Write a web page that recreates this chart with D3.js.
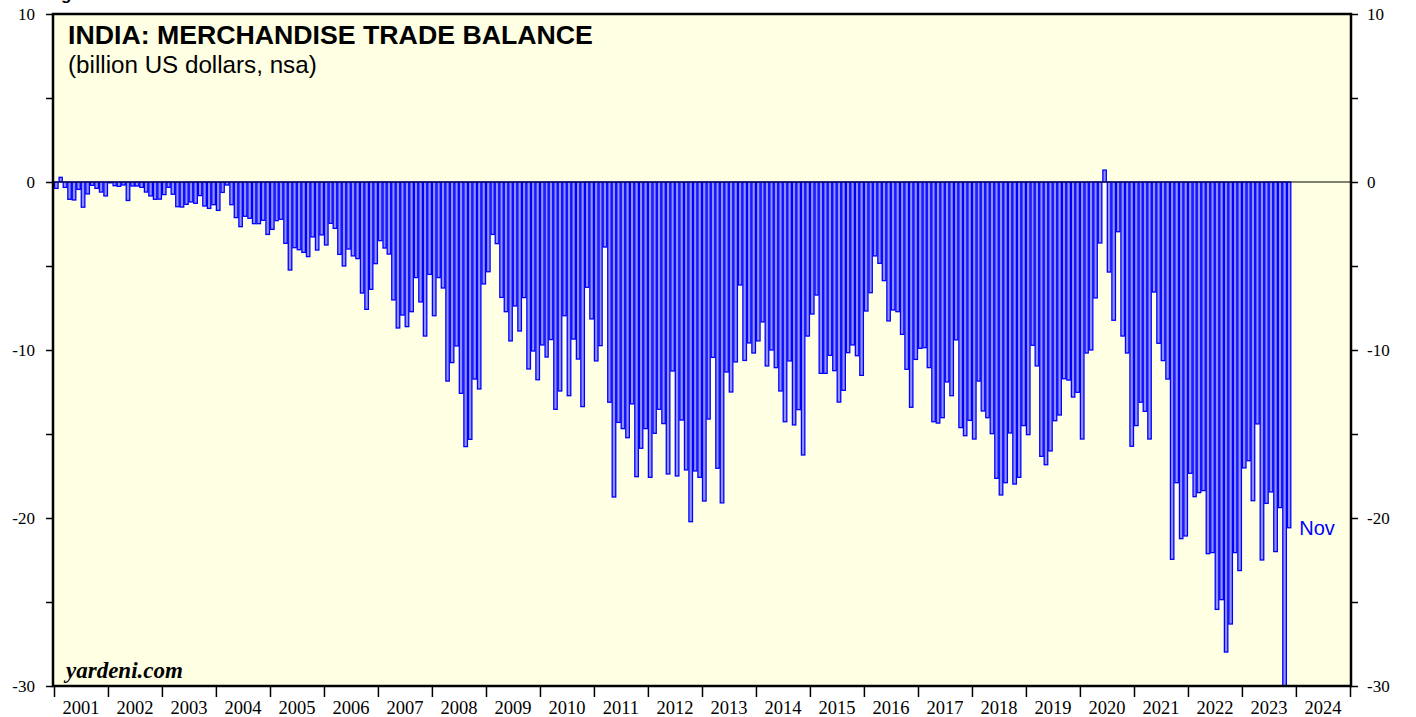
<!DOCTYPE html>
<html>
<head>
<meta charset="utf-8">
<script src="https://cdn.jsdelivr.net/npm/d3@7"></script>
<style>
  body { margin: 0; background: #fff; }
  svg { display: block; }
</style>
</head>
<body>
<svg id="chart" width="1416" height="717"></svg>
<script>
// monthly trade balance, billion US dollars (nsa), Jan..Dec
const y2001 = [-0.38, 0.28, -0.32, -1.03, -1.07, -0.44, -1.50, -0.71, -0.20, -0.38, -0.60, -0.83]
const y2002 = [-0.05, -0.22, -0.26, -0.18, -1.10, -0.24, -0.24, -0.32, -0.60, -0.83, -1.03, -1.02]
const y2003 = [-0.75, -0.32, -0.73, -1.47, -1.49, -1.33, -1.19, -1.27, -0.81, -1.43, -1.57, -1.35]
const y2004 = [-1.69, -0.62, -0.18, -1.35, -2.12, -2.66, -2.04, -2.16, -2.48, -2.48, -2.28, -3.12]
const y2005 = [-2.82, -2.30, -2.22, -3.65, -5.24, -3.91, -4.03, -4.19, -4.44, -3.27, -4.05, -3.15]
const y2006 = [-3.75, -2.46, -2.76, -4.31, -5.00, -3.99, -4.40, -4.56, -6.61, -7.58, -6.39, -4.86]
const y2007 = [-3.49, -3.93, -4.29, -7.02, -8.69, -7.92, -8.61, -7.72, -5.69, -7.14, -9.17, -5.50]
const y2008 = [-7.96, -5.69, -6.31, -11.85, -10.75, -9.76, -12.58, -15.75, -15.32, -11.73, -12.32, -6.07]
const y2009 = [-5.34, -3.12, -3.67, -6.87, -7.72, -9.46, -7.38, -8.87, -6.88, -11.13, -10.06, -11.77]
const y2010 = [-9.70, -10.42, -9.38, -13.53, -12.44, -7.96, -12.72, -9.35, -10.54, -13.37, -6.27, -8.15]
const y2011 = [-10.65, -9.74, -3.87, -13.11, -18.75, -14.31, -14.68, -15.22, -13.21, -17.54, -15.85, -14.68]
const y2012 = [-17.58, -14.96, -13.53, -14.38, -17.38, -11.25, -17.50, -14.17, -17.14, -20.22, -17.20, -17.58]
const y2013 = [-18.99, -14.11, -10.44, -17.04, -19.10, -11.31, -12.50, -10.71, -6.13, -10.62, -9.58, -10.18]
const y2014 = [-9.46, -8.33, -10.95, -10.00, -11.05, -12.44, -14.27, -10.65, -14.46, -13.55, -16.25, -9.17]
const y2015 = [-7.86, -6.73, -11.39, -11.39, -10.32, -11.23, -13.10, -12.40, -10.16, -9.70, -10.34, -11.51]
const y2016 = [-7.68, -6.59, -4.40, -4.84, -5.87, -8.27, -7.62, -7.72, -9.07, -11.15, -13.41, -10.56]
const y2017 = [-9.90, -9.86, -11.05, -14.27, -14.35, -14.03, -11.90, -12.72, -9.40, -14.62, -15.10, -14.19]
const y2018 = [-15.30, -11.85, -13.63, -14.03, -14.98, -17.64, -18.63, -17.90, -14.94, -17.98, -17.58, -14.50]
const y2019 = [-15.04, -9.72, -10.95, -16.33, -16.83, -16.01, -14.21, -13.87, -11.71, -11.79, -12.80, -12.52]
const y2020 = [-15.30, -10.18, -10.00, -6.90, -3.63, 0.71, -5.36, -8.23, -2.96, -9.17, -10.18, -15.73]
const y2021 = [-14.50, -13.11, -13.65, -15.30, -6.55, -9.60, -10.63, -11.73, -22.46, -17.90, -21.23, -21.07]
const y2022 = [-17.34, -18.73, -18.49, -18.37, -22.12, -22.06, -25.44, -24.86, -27.98, -26.31, -22.06, -23.13]
const y2023 = [-17.02, -16.59, -18.97, -14.40, -22.50, -19.13, -18.45, -22.00, -19.38, -30.00, -20.58]

const firstYear = 2001
const yearRows = [y2001, y2002, y2003, y2004, y2005, y2006, y2007, y2008, y2009, y2010, y2011, y2012,
  y2013, y2014, y2015, y2016, y2017, y2018, y2019, y2020, y2021, y2022, y2023]
const axisYears = d3.range(2001, 2025)
const yTicks = [10, 0, -10, -20, -30]
const lastLabel = 'Nov'

const data = []
yearRows.forEach(function(row, i) {
  row.forEach(function(v, m) {
    data.push({ date: new Date(firstYear + i, m, 1), value: v })
  })
})

const svg = d3.select('#chart')
const margin = { top: 14, right: 66, bottom: 31, left: 54 }
const width = 1416
const height = 717

const x = d3
  .scaleTime()
  .domain([new Date(2001, 0, 1), new Date(2025, 0, 1)])
  .range([margin.left, width - margin.right])

const y = d3
  .scaleLinear()
  .domain([-30, 10])
  .range([height - margin.bottom, margin.top])

// plot background
svg
  .append('rect')
  .attr('x', x.range()[0])
  .attr('y', y(10))
  .attr('width', x.range()[1] - x.range()[0])
  .attr('height', y(-30) - y(10))
  .attr('fill', '#ffffe3')

// bars
svg
  .append('g')
  .selectAll('rect')
  .data(data)
  .enter()
  .append('rect')
  .attr('x', function(d) {
    return x(d.date) + 0.5
  })
  .attr('width', function(d) {
    return x(d3.timeMonth.offset(d.date, 1)) - x(d.date) - 1
  })
  .attr('y', function(d) {
    return y(Math.max(0, d.value))
  })
  .attr('height', function(d) {
    return Math.abs(y(d.value) - y(0))
  })
  .attr('fill', '#9090ff')
  .attr('stroke', '#0000ff')
  .attr('stroke-width', 1.3)

// zero line
svg
  .append('line')
  .attr('x1', x.range()[0])
  .attr('x2', x.range()[1])
  .attr('y1', y(0))
  .attr('y2', y(0))
  .attr('stroke', '#000')
  .attr('stroke-width', 1)

// frame
svg
  .append('rect')
  .attr('x', x.range()[0] - 1)
  .attr('y', y(10))
  .attr('width', x.range()[1] - x.range()[0] + 2)
  .attr('height', y(-30) - y(10))
  .attr('fill', 'none')
  .attr('stroke', '#000')
  .attr('stroke-width', 2.5)

// y axes
const left = svg
  .append('g')
  .attr('transform', 'translate(' + (x.range()[0] - 1) + ',0)')
  .call(d3.axisLeft(y).tickValues(d3.range(-30, 11, 5)).tickSize(7).tickFormat(function(d) {
    return yTicks.indexOf(d) >= 0 ? d : ''
  }))
const right = svg
  .append('g')
  .attr('transform', 'translate(' + (x.range()[1] + 1) + ',0)')
  .call(d3.axisRight(y).tickValues(d3.range(-30, 11, 5)).tickSize(7).tickFormat(function(d) {
    return yTicks.indexOf(d) >= 0 ? d : ''
  }))
;[left, right].forEach(function(g) {
  g.select('.domain').remove()
  g.selectAll('line').attr('stroke', '#000').attr('stroke-width', 1.5)
  g.selectAll('text')
    .attr('font-family', 'Liberation Serif, serif')
    .attr('font-size', 17)
    .attr('fill', '#000')
})
left.selectAll('text').attr('x', -18)
right.selectAll('text').attr('x', 16)

// x axis: year boundaries as ticks, labels centred in each year
const bottom = svg
  .append('g')
  .attr('transform', 'translate(0,' + y(-30) + ')')
  .call(d3.axisBottom(x).tickValues(axisYears.map(function(yr) {
    return new Date(yr, 0, 1)
  }).concat([new Date(2025, 0, 1)])).tickSize(11).tickFormat(''))
bottom.select('.domain').remove()
bottom.selectAll('line').attr('stroke', '#000').attr('stroke-width', 1.5)

svg
  .append('g')
  .selectAll('text')
  .data(axisYears)
  .enter()
  .append('text')
  .attr('x', function(yr) {
    return (x(new Date(yr, 0, 1)) + x(new Date(yr + 1, 0, 1))) / 2
  })
  .attr('y', 714)
  .attr('text-anchor', 'middle')
  .attr('font-family', 'Liberation Serif, serif')
  .attr('font-size', 18.5)
  .text(function(yr) {
    return yr
  })

// titles
svg
  .append('text')
  .attr('x', 46)
  .attr('y', 0)
  .attr('font-family', 'Liberation Sans, Arial, sans-serif')
  .attr('font-weight', 'bold')
  .attr('font-size', 17)
  .text('Figure 1.')

svg
  .append('text')
  .attr('x', 68)
  .attr('y', 44)
  .attr('font-family', 'Liberation Sans, Arial, sans-serif')
  .attr('font-weight', 'bold')
  .attr('font-size', 26.7)
  .text('INDIA: MERCHANDISE TRADE BALANCE')

svg
  .append('text')
  .attr('x', 68)
  .attr('y', 73)
  .attr('font-family', 'Liberation Sans, Arial, sans-serif')
  .attr('font-size', 24.2)
  .text('(billion US dollars, nsa)')

svg
  .append('text')
  .attr('x', 66)
  .attr('y', 678)
  .attr('font-family', 'Liberation Serif, serif')
  .attr('font-weight', 'bold')
  .attr('font-style', 'italic')
  .attr('font-size', 23)
  .text('yardeni.com')

// latest month label
const last = data[data.length - 1]
svg
  .append('text')
  .attr('x', x(d3.timeMonth.offset(last.date, 1)) + 8)
  .attr('y', y(last.value) + 7)
  .attr('font-family', 'Liberation Sans, Arial, sans-serif')
  .attr('font-size', 20)
  .attr('fill', '#0000ff')
  .text(lastLabel)
</script>
</body>
</html>
